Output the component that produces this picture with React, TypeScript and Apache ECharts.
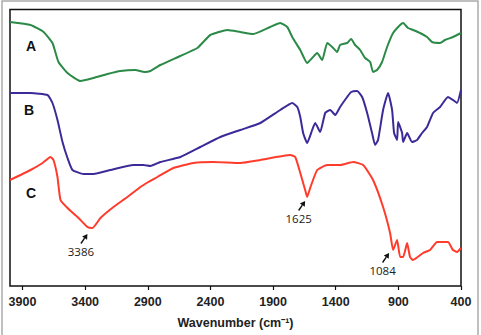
import React, { useEffect, useRef } from "react";
import * as echarts from "echarts";

const tickValues = [3900, 3400, 2900, 2400, 1900, 1400, 900, 400];

const wnA = [4000, 3836, 3732, 3661, 3613, 3541, 3437, 3334, 3222, 3118, 2999, 2927, 2879, 2800, 2640, 2505, 2457, 2401, 2265, 2162, 2058, 1923, 1843, 1787, 1747, 1723, 1683, 1628, 1588, 1548, 1508, 1468, 1428, 1389, 1365, 1309, 1277, 1245, 1205, 1165, 1125, 1102, 1070, 1030, 990, 942, 886, 862, 823, 783, 727, 671, 631, 567, 528, 464, 400];
const valA = [264, 261, 254, 243, 224, 213, 205, 208, 212, 215, 216, 214, 215, 221, 230, 238, 244, 251, 256, 254, 252, 259, 263, 259, 249, 244, 236, 223, 228, 233, 226, 243, 239, 234, 241, 243, 247, 241, 236, 228, 224, 214, 216, 224, 239, 253, 261, 263, 258, 256, 253, 249, 244, 243, 246, 249, 253];

const wnB = [4000, 3836, 3700, 3661, 3621, 3581, 3541, 3501, 3413, 3334, 3198, 3015, 2935, 2879, 2800, 2640, 2481, 2321, 2162, 2002, 1843, 1747, 1707, 1683, 1660, 1628, 1588, 1564, 1524, 1484, 1444, 1404, 1365, 1309, 1277, 1229, 1189, 1149, 1110, 1086, 1062, 1022, 982, 950, 934, 910, 902, 870, 862, 830, 791, 751, 711, 671, 623, 567, 504, 464, 432, 400];
const valB = [193, 193, 191, 183, 166, 144, 128, 116, 112, 112, 116, 121, 121, 120, 124, 129, 139, 149, 156, 163, 176, 183, 179, 169, 153, 143, 156, 163, 154, 173, 176, 171, 179, 189, 194, 195, 189, 173, 153, 141, 146, 176, 193, 176, 153, 146, 164, 153, 144, 153, 144, 146, 153, 159, 173, 179, 189, 186, 183, 196];

const wnC = [4000, 3836, 3740, 3677, 3653, 3621, 3597, 3541, 3461, 3382, 3342, 3278, 3174, 3063, 2959, 2895, 2823, 2696, 2536, 2377, 2162, 2002, 1763, 1723, 1683, 1644, 1628, 1604, 1548, 1468, 1365, 1261, 1181, 1102, 1022, 966, 942, 910, 886, 862, 830, 807, 783, 703, 647, 591, 543, 504, 464, 432, 400];
const valC = [106, 116, 123, 129, 126, 109, 86, 78, 69, 59, 58, 68, 79, 89, 99, 104, 109, 118, 123, 124, 123, 126, 131, 129, 113, 96, 89, 98, 116, 121, 121, 124, 121, 106, 79, 53, 36, 46, 29, 29, 43, 29, 26, 33, 36, 44, 44, 44, 36, 34, 38];

const seriesNames = ["A", "B", "C"];
const seriesColors = ["#2b8a47", "#3b2b98", "#ff3b2b"];

// annotation: label, arrow tip (wavenumber, value)
const annLabels = ["3386", "1625", "1084"];
const annTipWn = [3382, 1644, 974];
const annTipVal = [53, 86, 34];

const zip = (xs: number[], ys: number[]) => xs.map((x, i) => [x, ys[i]]);

export default function App() {
  const ref = useRef<HTMLDivElement>(null);
  useEffect(() => {
    if (!ref.current) return;
    const chart = echarts.init(ref.current, null, { renderer: "svg" });
    const datasets = [zip(wnA, valA), zip(wnB, valB), zip(wnC, valC)];
    chart.setOption({
      animation: false,
      backgroundColor: "#fff",
      grid: {
        left: 10,
        top: 9.5,
        right: 20,
        bottom: 49,
        show: true,
        borderColor: "#111",
        borderWidth: 1.5,
        backgroundColor: "transparent",
      },
      xAxis: {
        type: "value",
        min: 400,
        max: 4000,
        inverse: true,
        splitLine: { show: false },
        axisLine: { show: false },
        axisTick: {
          show: true,
          customValues: tickValues,
          length: 4,
          lineStyle: { color: "#111", width: 1.2 },
        },
        axisLabel: {
          customValues: tickValues,
          formatter: (v: number) => String(v),
          margin: 9,
          fontFamily: "Liberation Sans, Arial, sans-serif",
          fontWeight: "bold",
          fontSize: 12.5,
          color: "#222",
        },
        name: "Wavenumber (cm\u207B\u00B9)",
        nameLocation: "middle",
        nameGap: 30,
        nameTextStyle: {
          fontFamily: "Liberation Sans, Arial, sans-serif",
          fontWeight: "bold",
          fontSize: 12.5,
          color: "#222",
        },
      },
      yAxis: {
        type: "value",
        min: 0,
        max: 276.5,
        show: false,
      },
      series: datasets.map((d, i) => ({
        type: "line",
        name: seriesNames[i],
        data: d,
        showSymbol: false,
        smooth: 0.15,
        lineStyle: { color: seriesColors[i], width: 2 },
      })),
    });

    const graphics: any[] = [
      {
        type: "rect",
        shape: { x: 2, y: 1, width: 476, height: 345 },
        style: { fill: "none", stroke: "#aaa", lineWidth: 1.5 },
        silent: true,
      },
    ];
    const letterPos = [
      [31, 46],
      [29, 110],
      [31, 193],
    ];
    seriesNames.forEach((n, i) => {
      graphics.push({
        type: "text",
        x: letterPos[i][0],
        y: letterPos[i][1],
        style: {
          text: n,
          fill: "#111",
          font: "bold 14px Liberation Sans, Arial, sans-serif",
          align: "center",
          verticalAlign: "middle",
        },
      });
    });
    annLabels.forEach((lab, i) => {
      const p = chart.convertToPixel({ gridIndex: 0 }, [annTipWn[i], annTipVal[i]]) as number[];
      const tx = p[0];
      const ty = p[1] + 1;
      const sx = tx - 6.5;
      const sy = ty + 9.5;
      const ang = Math.atan2(ty - sy, tx - sx);
      const hl = 5;
      const hw = 3;
      const bx = tx - hl * Math.cos(ang);
      const by = ty - hl * Math.sin(ang);
      const nx = -Math.sin(ang);
      const ny = Math.cos(ang);
      graphics.push({
        type: "line",
        shape: { x1: sx, y1: sy, x2: bx, y2: by },
        style: { stroke: "#111", lineWidth: 1.4 },
      });
      graphics.push({
        type: "polygon",
        shape: {
          points: [
            [tx, ty],
            [bx + nx * hw, by + ny * hw],
            [bx - nx * hw, by - ny * hw],
          ],
        },
        style: { fill: "#111" },
      });
      graphics.push({
        type: "text",
        x: sx,
        y: sy + 8,
        style: {
          text: lab,
          fill: "#222",
          font: "11.5px Open Sans, Liberation Sans, sans-serif",
          align: "center",
          verticalAlign: "middle",
        },
      });
    });
    chart.setOption({ graphic: graphics });
    return () => chart.dispose();
  }, []);
  return (
    <div
      ref={ref}
      style={{ position: "fixed", left: 0, top: 0, width: 481, height: 335 }}
    />
  );
}
